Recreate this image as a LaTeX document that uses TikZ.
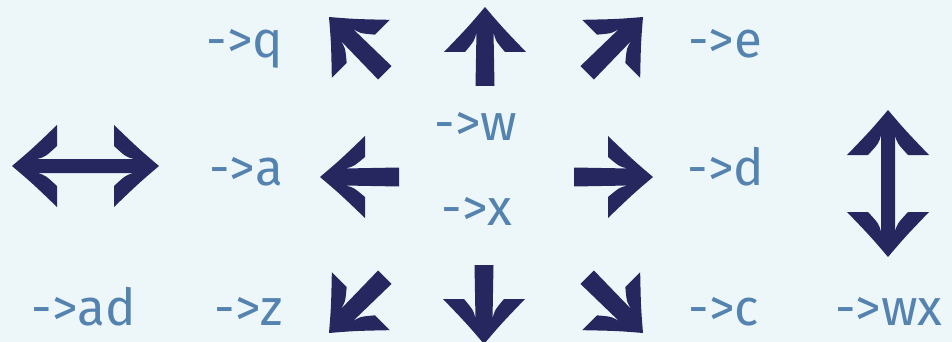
\documentclass[tikz,border=0pt]{standalone}
\usepackage{fontspec}
\setmainfont{Fira Sans}
\definecolor{bgcol}{HTML}{EDF7FA}
\definecolor{arrowcol}{HTML}{272760}
\definecolor{labcol}{HTML}{5583B0}
\tikzset{
  sarrow/.pic={
    \fill[arrowcol] (0,0) .. controls (-20,17) .. (-45,41) -- (-45,20) .. controls (-33,10) .. (-24,8.5)
      -- (-79,9.5) -- (-79,-9.5) -- (-24,-8.5) .. controls (-33,-10) .. (-45,-20)
      -- (-45,-41) .. controls (-20,-17) .. cycle;
  },
  darrow/.pic={
    \fill[arrowcol] (0,0) .. controls (-20,17) .. (-45,41) -- (-45,20) .. controls (-33,9) .. (-25,7)
      -- (-122,7) .. controls (-114,9) .. (-102,20) -- (-102,41) .. controls (-127,17) .. (-147,0)
      .. controls (-127,-17) .. (-102,-41) -- (-102,-20) .. controls (-114,-9) .. (-122,-7)
      -- (-25,-7) .. controls (-33,-9) .. (-45,-20) -- (-45,-41) .. controls (-20,-17) .. cycle;
  },
  lab/.style={text=labcol, anchor=base, inner sep=0pt, font=\fontsize{51}{60}\selectfont},
}
\begin{document}
\begin{tikzpicture}[x=1pt,y=-1pt]
\useasboundingbox (0,0) rectangle (952,342);
\fill[bgcol] (0,0) rectangle (952,342);
% single arrows (tip positions)
\pic (aq) [rotate=135] at (329,17) {sarrow};
\pic (aw) [rotate=90]  at (485,7)  {sarrow};
\pic (ae) [rotate=45]  at (643,17) {sarrow};
\pic (aa) [rotate=180] at (320,177) {sarrow};
\pic (ad) [rotate=0]   at (653,177) {sarrow};
\pic (az) [rotate=225] at (329,333) {sarrow};
\pic (ax) [rotate=270] at (484,344) {sarrow};
\pic (ac) [rotate=315] at (643,333) {sarrow};
% double arrows
\pic (aad) [rotate=0]  at (159,166) {darrow};
\pic (awx) [rotate=90] at (888,110) {darrow};
% labels
\node[lab] (lq)  at (245,58)  {->q};
\node[lab] (le)  at (725,58)  {->e};
\node[lab] (lw)  at (476,140) {->w};
\node[lab] (la)  at (246,185) {->a};
\node[lab] (ld)  at (726,185) {->d};
\node[lab] (lx)  at (477,225) {->x};
\node[lab] (lad) at (84,325)  {->ad};
\node[lab] (lz)  at (249,325) {->z};
\node[lab] (lc)  at (724,325) {->c};
\node[lab] (lwx) at (889,325) {->wx};
\end{tikzpicture}
\end{document}
